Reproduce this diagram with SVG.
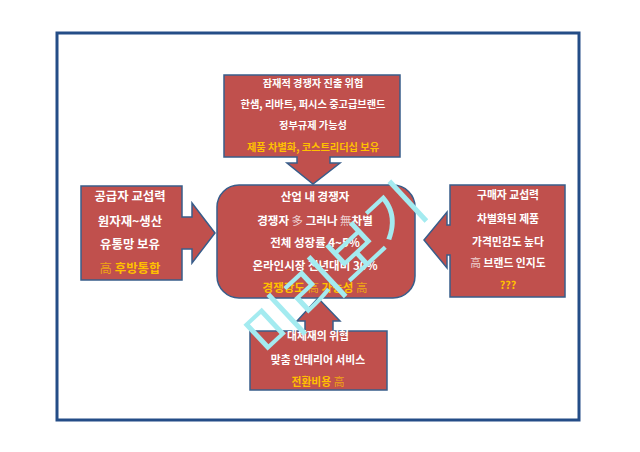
<svg xmlns="http://www.w3.org/2000/svg" width="640" height="452" viewBox="0 0 640 452">
<style>
.box{fill:#c0504d;stroke:#385d8a;stroke-width:1.5;stroke-linejoin:miter}
.t{font-family:"Noto Sans CJK KR","Noto Sans",sans-serif;font-weight:bold;fill:#ffffff;text-anchor:middle}
.y{fill:#ffc000}
.k{font-weight:normal;fill-opacity:0.75}
.wm{font-family:"Noto Sans CJK KR",sans-serif;font-weight:normal;fill:#a4ebf0;text-anchor:middle}
</style>
<rect x="0" y="0" width="640" height="452" fill="#ffffff"/>
<rect x="57" y="33" width="522" height="387" fill="none" stroke="#244d87" stroke-width="3"/>
<g id="connectors"></g>
<g id="center">
<rect class="box" x="217" y="185" width="198" height="113" rx="22"/>
<text class="t" x="315" y="201" font-size="11.5">산업 내 경쟁자</text>
<text class="t" x="315" y="225" font-size="11.5">경쟁자 <tspan class="k">多</tspan> 그러나 <tspan class="k">無</tspan>차별</text>
<text class="t" x="315" y="247" font-size="11.5">전체 성장률 4~5%</text>
<text class="t" x="315" y="270" font-size="11.5">온라인시장 전년대비 30%</text>
<text class="t y" x="315" y="292" font-size="11.5">경쟁강도 <tspan class="k">高</tspan> 가능성 <tspan class="k">高</tspan></text>
</g>
<g id="top">
<path class="box" d="M224,75 H400 V157 H330 V163 H340 L313,184 L287,163 H297 V157 H224 Z"/>
<text class="t" x="313" y="87" font-size="10.2">잠재적 경쟁자 진출 위협</text>
<text class="t" x="313" y="108" font-size="10.2">한샘, 리바트, 퍼시스 중고급브랜드</text>
<text class="t" x="313" y="129" font-size="10.2">정부규제 가능성</text>
<text class="t y" x="313" y="151" font-size="10.2">제품 차별화, 코스트리더십 보유</text>
</g>
<g id="left">
<path class="box" d="M81,186 H182 V217 H192 V203 L215,233 L192,263 V249 H182 V280 H81 Z"/>
<text class="t" x="130" y="201" font-size="12.4">공급자 교섭력</text>
<text class="t" x="130" y="226" font-size="12.4">원자재~생산</text>
<text class="t" x="130" y="249" font-size="12.4">유통망 보유</text>
<text class="t y" x="130" y="273" font-size="12.4"><tspan class="k">高</tspan> 후방통합</text>
</g>
<g id="right">
<path class="box" d="M450,185 H565 V297 H450 V255 H447 V268 L424,240 L447,212 V225 H450 Z"/>
<text class="t" x="508" y="199" font-size="10.8">구매자 교섭력</text>
<text class="t" x="508" y="223" font-size="10.8">차별화된 제품</text>
<text class="t" x="508" y="246" font-size="10.8">가격민감도 높다</text>
<text class="t" x="508" y="267" font-size="10.8"><tspan class="k">高</tspan> 브랜드 인지도</text>
<text class="t y" x="508" y="289" font-size="10.8">???</text>
</g>
<g id="bottom">
<path class="box" d="M250,331 H305 V321 H297 L318,298 L340,321 H333 V331 H387 V390 H250 Z"/>
<text class="t" x="318" y="340" font-size="10.8">대체재의 위협</text>
<text class="t" x="318" y="364" font-size="10.8">맞춤 인테리어 서비스</text>
<text class="t y" x="318" y="386" font-size="10.8">전환비용 <tspan class="k">高</tspan></text>
</g>
<text class="wm" transform="translate(350,286) rotate(-43)" font-size="60">미리보기</text>
</svg>
